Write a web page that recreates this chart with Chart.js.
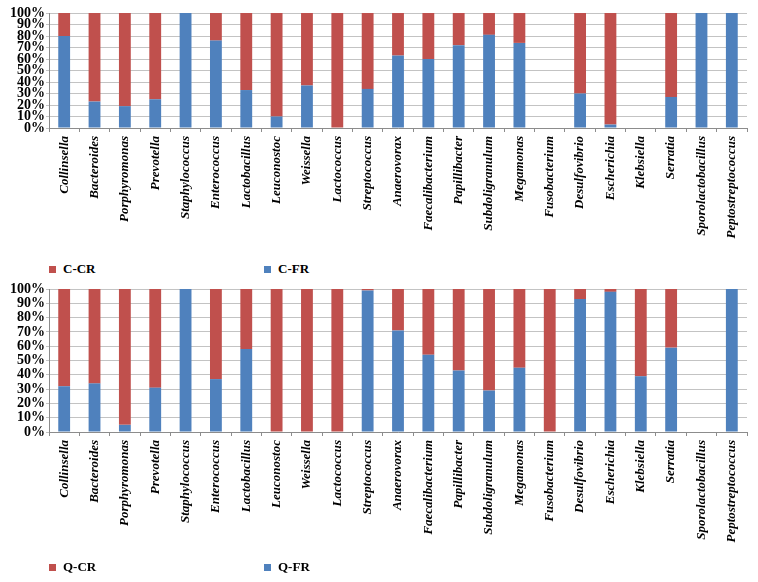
<!DOCTYPE html>
<html>
<head>
<meta charset="utf-8">
<script src="https://cdn.jsdelivr.net/npm/chart.js@4.4.1/dist/chart.umd.min.js"></script>
<style>
  html, body { margin: 0; padding: 0; background: #fff; }
  #wrap { position: relative; width: 758px; height: 582px; overflow: hidden; }
  .cv { position: absolute; left: 0; }
  .legend { position: absolute; font-family: 'Liberation Serif', serif; font-weight: bold; font-size: 13px; color: #000; }
  .item { position: absolute; white-space: nowrap; line-height: 14px; }
  .sw { position: absolute; width: 7px; height: 7px; top: 4px; left: 0; }
  .lt { position: absolute; left: 14px; top: 0; }
</style>
</head>
<body>
<div id="wrap">
  <div class="cv" style="top:0;width:758px;height:250px;"><canvas id="c1"></canvas></div>
  <div class="cv" style="top:280px;width:758px;height:302px;"><canvas id="c2"></canvas></div>
  <div class="legend" id="leg1" style="top:262px;left:0;width:758px;height:16px;"></div>
  <div class="legend" id="leg2" style="top:560px;left:0;width:758px;height:16px;"></div>
</div>
<script>
const categories = ['Collinsella','Bacteroides','Porphyromonas','Prevotella','Staphylococcus','Enterococcus','Lactobacillus','Leuconostoc','Weissella','Lactococcus','Streptococcus','Anaerovorax','Faecalibacterium','Papillibacter','Subdoligranulum','Megamonas','Fusobacterium','Desulfovibrio','Escherichia','Klebsiella','Serratia','Sporolactobacillus','Peptostreptococcus'];
const cFR = [80,23,19,25,100,76,33,10,37,0,34,63,60,72,81,74,0,30,3,0,27,100,100];
const cCR = [20,77,81,75,0,24,67,90,63,100,66,37,40,28,19,26,0,70,97,0,73,0,0];
const qFR = [32,34,5,31,100,37,58,0,0,0,99,71,54,43,29,45,0,93,98,39,59,0,100];
const qCR = [68,66,95,69,0,63,42,100,100,100,1,29,46,57,71,55,100,7,2,61,41,0,0];
const yTicks = [0,10,20,30,40,50,60,70,80,90,100];
const legend1 = ['C-CR','C-FR'];
const legend2 = ['Q-CR','Q-FR'];

const RED = '#c0504d', BLUE = '#4f81bd';

function makeChart(id, frVals, crVals, names, xHeight, padTop) {
  return new Chart(document.getElementById(id), {
    type: 'bar',
    data: {
      labels: categories,
      datasets: [
        { label: names[1], data: frVals, backgroundColor: BLUE, barPercentage: 0.39, categoryPercentage: 1.0 },
        { label: names[0], data: crVals, backgroundColor: RED, barPercentage: 0.39, categoryPercentage: 1.0 }
      ]
    },
    options: {
      responsive: true,
      maintainAspectRatio: false,
      animation: false,
      layout: { padding: { left: 9, right: 11, top: padTop, bottom: 0 } },
      plugins: { legend: { display: false }, tooltip: { enabled: false } },
      scales: {
        x: {
          stacked: true,
          offset: true,
          afterFit: s => { s.height = xHeight; },
          grid: { display: true, drawOnChartArea: false, drawTicks: true, tickLength: 4, offset: true, color: '#8c8c8c' },
          border: { display: true, color: '#8c8c8c' },
          ticks: {
            autoSkip: false, minRotation: 90, maxRotation: 90, padding: 4, color: '#000',
            font: { family: 'Liberation Serif', size: 13, style: 'italic', weight: 'bold' }
          }
        },
        y: {
          stacked: true,
          min: 0, max: 100,
          afterFit: s => { s.width = 40; },
          afterBuildTicks: s => { s.ticks = yTicks.map(v => ({ value: v })); },
          grid: { color: '#c3c3c3', tickLength: 3, drawTicks: true },
          border: { display: true, color: '#8c8c8c' },
          ticks: {
            autoSkip: false,
            padding: 1, color: '#000',
            callback: v => v + '%',
            font: { family: 'Liberation Serif', size: 14, weight: 'bold', lineHeight: 1 }
          }
        }
      }
    }
  });
}

makeChart('c1', cFR, cCR, legend1, 122, 13);
makeChart('c2', qFR, qCR, legend2, 150, 9);

function buildLegend(id, names) {
  const el = document.getElementById(id);
  const xs = [49, 264];
  const cols = [RED, BLUE];
  names.forEach((n, i) => {
    const it = document.createElement('div');
    it.className = 'item';
    it.style.left = xs[i] + 'px';
    it.style.top = '0px';
    it.innerHTML = '<span class="sw" style="background:' + cols[i] + '"></span><span class="lt"></span>';
    it.querySelector('.lt').textContent = n;
    el.appendChild(it);
  });
}
buildLegend('leg1', legend1);
buildLegend('leg2', legend2);
</script>
</body>
</html>
